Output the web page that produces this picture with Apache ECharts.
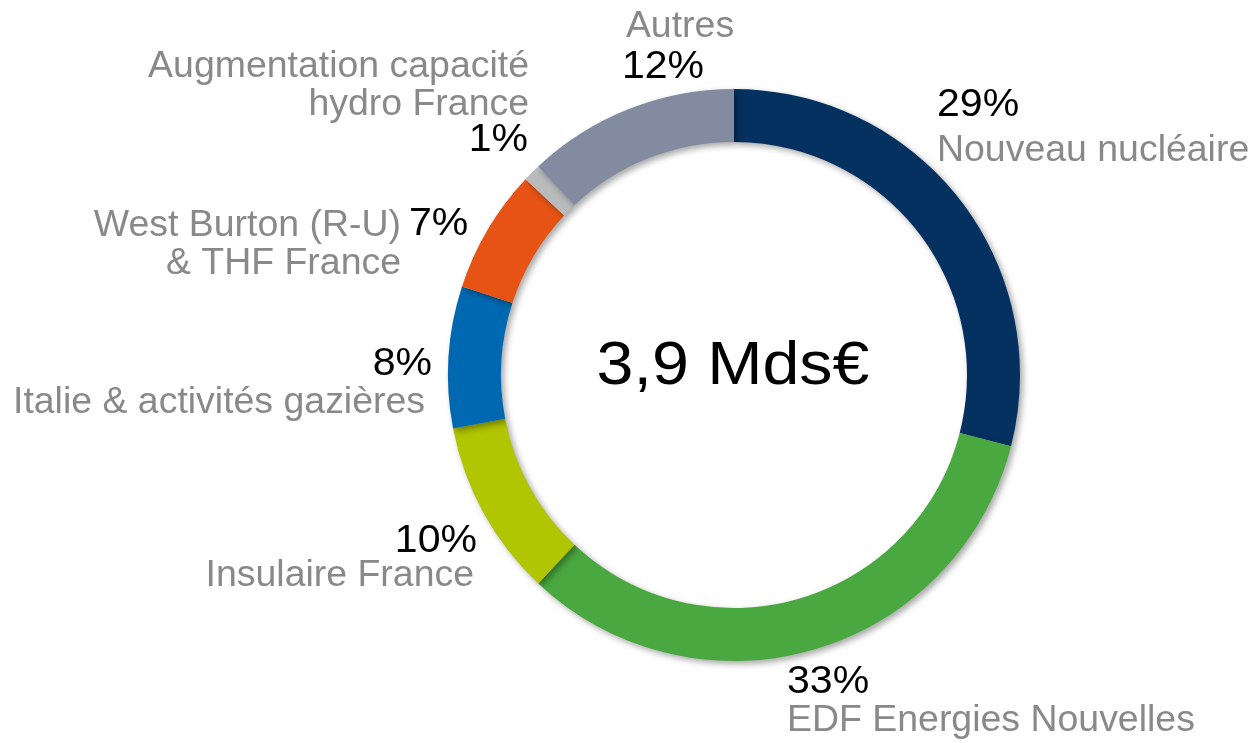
<!DOCTYPE html>
<html>
<head>
<meta charset="utf-8">
<script src="https://cdn.jsdelivr.net/npm/echarts@6/dist/echarts.min.js"></script>
<style>
html,body{margin:0;padding:0;background:#fff;}
#chart{width:1252px;height:743px;}
</style>
</head>
<body>
<div id="chart"></div>
<script>
// ---- data ----
var categories = ['Nouveau nucléaire', 'EDF Energies Nouvelles', 'Insulaire France', 'Italie & activités gazières', 'West Burton (R-U)\n& THF France', 'Augmentation capacité\nhydro France', 'Autres'];
var values = [29, 33, 10, 8, 7, 1, 12];
var colors = ['#04315f', '#49a83f', '#b1c500', '#0068b1', '#e65314', '#b9babb', '#838ba0'];
var centerLabel = '3,9 Mds€';

// ---- label layout (positions only) ----
// [name x, name y, name align, pct x, pct y, pct align]
var labelLayout = [
  [937, 151, 'left', 937, 106, 'left'],
  [787, 721, 'left', 787, 683, 'left'],
  [474, 576, 'right', 477, 542, 'right'],
  [425, 403, 'right', 432, 365, 'right'],
  [401, 245, 'right', 409, 225, 'left'],
  [529, 86, 'right', 528, 141, 'right'],
  [680, 27, 'center', 663, 68, 'center']
];

var FONT = '"Liberation Sans", Arial, sans-serif';
var graphics = [];
function txt(text, x, y, align, color, size, sx, lh) {
  return {
    type: 'text', x: x, y: y, scaleX: sx, scaleY: 1,
    style: {
      text: text, x: 0, y: 0, textAlign: align, textVerticalAlign: 'middle',
      fill: color, fontSize: size, fontFamily: FONT, lineHeight: lh || size
    }
  };
}
categories.forEach(function (name, i) {
  var L = labelLayout[i];
  graphics.push(txt(name, L[0], L[1], L[2], '#898989', 36, 1.04, 38));
  graphics.push(txt(values[i] + '%', L[3], L[4], L[5], '#000000', 38, 1.08));
});
graphics.push(txt(centerLabel, 733, 367, 'center', '#000000', 62, 1.07));

var chart = echarts.init(document.getElementById('chart'), null, {renderer: 'canvas'});
chart.setOption({
  animation: false,
  backgroundColor: '#ffffff',
  series: [{
    type: 'pie',
    center: [734, 375],
    radius: [233, 286],
    startAngle: 90,
    clockwise: true,
    avoidLabelOverlap: false,
    label: {show: false},
    labelLine: {show: false},
    emphasis: {disabled: true},
    itemStyle: {
      borderWidth: 0,
      shadowBlur: 6,
      shadowOffsetX: 3,
      shadowOffsetY: 3,
      shadowColor: 'rgba(0,0,0,0.35)'
    },
    data: categories.map(function (c, i) {
      return {name: c, value: values[i], itemStyle: {color: colors[i]}};
    })
  }],
  graphic: graphics
});
</script>
</body>
</html>
